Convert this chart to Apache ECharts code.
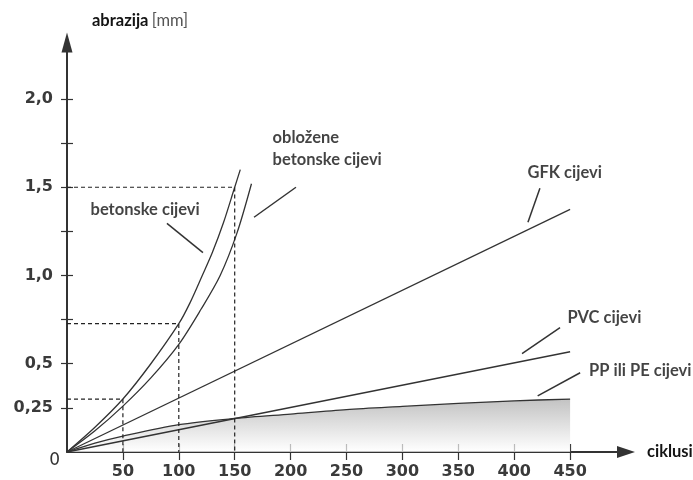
<!DOCTYPE html>
<html lang="hr">
<head>
    <meta charset="UTF-8">
    <title>abrazija</title>
    <script src="https://cdn.jsdelivr.net/npm/echarts@6/dist/echarts.min.js"></script>
    <style>
        html, body { margin: 0; padding: 0; background: #fff; }
        #chart { width: 693px; height: 480px; }
    </style>
</head>
<body>
<div id="chart"></div>
<script>
    // vrijednosti očitane sa slike
    var betonske = [[0, 0], [25, 0.14], [50, 0.30], [75, 0.50], [100, 0.727], [110, 0.845], [121, 1.0], [130, 1.13], [140, 1.3], [150, 1.5], [155, 1.6]];
    var oblozene = [[0, 0], [25, 0.12], [50, 0.26], [75, 0.42], [100, 0.61], [120, 0.81], [137, 1.0], [152, 1.24], [165, 1.52]];
    var gfk = [[0, 0], [450, 1.375]];
    var pvc = [[0, 0], [450, 0.568]];
    var ppPe = [[0, 0], [25, 0.05], [50, 0.09], [100, 0.155], [150, 0.19], [200, 0.215], [250, 0.24], [300, 0.258], [350, 0.275], [400, 0.29], [450, 0.30]];

    // isprekidane pomoćne linije
    var guides = [
        [[0, 0.30], [50, 0.30], [50, 0]],
        [[0, 0.727], [100, 0.727], [100, 0]],
        [[0, 1.5], [150, 1.5], [150, 0]]
    ];

    // oznake i crtice do krivulja
    var labelNames = ['obložene\nbetonske cijevi', 'betonske cijevi', 'GFK cijevi', 'PVC cijevi', 'PP ili PE cijevi'];
    var labelPos = [[183.4, 1.716], [20.6, 1.375], [411.4, 1.585], [447.2, 0.761], [466.5, 0.46]];
    var leaders = [
        [[204.8, 1.50], [167.3, 1.33]],
        [[89.4, 1.295], [121.6, 1.13]],
        [[423, 1.494], [412.3, 1.301]],
        [[441, 0.705], [407, 0.557]],
        [[459, 0.449], [421, 0.318]]
    ];

    var xTicks = [50, 100, 150, 200, 250, 300, 350, 400, 450];
    var yTicks = [0.25, 0.5, 0.75, 1.0, 1.25, 1.5, 1.75, 2.0];
    var yLabels = [0, 0.25, 0.5, 1.0, 1.5, 2.0];

    var ink = '#333';
    var noteFont = {
        fontFamily: 'Lato, "DejaVu Sans Condensed", sans-serif',
        fontWeight: 'bold',
        fontSize: 16.5,
        color: '#141414'
    };

    function curve(data, smooth) {
        return {
            type: 'line',
            data: data,
            smooth: smooth,
            symbol: 'none',
            lineStyle: { color: ink, width: 1.3 }
        };
    }

    var series = [
        curve(betonske, 0.3),
        curve(oblozene, 0.3),
        curve(gfk, false),
        curve(pvc, false),
        {
            type: 'line',
            data: ppPe,
            smooth: 0.3,
            symbol: 'none',
            lineStyle: { color: ink, width: 1.3 },
            areaStyle: {
                color: new echarts.graphic.LinearGradient(0, 0, 0, 1, [
                    { offset: 0, color: '#a8a8a8' },
                    { offset: 1, color: '#ffffff' }
                ])
            }
        }
    ];
    guides.forEach(function (g) {
        series.push({
            type: 'line',
            data: g,
            symbol: 'none',
            lineStyle: { color: '#222', width: 1.2, type: [4, 3] }
        });
    });
    leaders.forEach(function (l) {
        series.push({
            type: 'line',
            data: l,
            symbol: 'none',
            lineStyle: { color: ink, width: 1.5 }
        });
    });
    series.push({
        type: 'scatter',
        symbolSize: 1,
        itemStyle: { color: 'rgba(0,0,0,0)' },
        data: labelNames.map(function (n, i) {
            return { name: n, value: labelPos[i] };
        }),
        label: Object.assign({
            show: true,
            position: 'right',
            distance: 0,
            lineHeight: 22,
            formatter: '{b}'
        }, noteFont)
    });

    function fmtY(v) {
        if (v === 0) return '{z|0}';
        var s = v.toFixed(v === 0.25 ? 2 : 1).replace('.', ',');
        return '{v|' + s + '}';
    }

    var option = {
        animation: false,
        grid: { left: 67, right: 67, top: 42.5, bottom: 28, outerBoundsMode: 'none', containLabel: false },
        xAxis: [{
            type: 'value',
            position: 'bottom',
            min: 0,
            max: 500,
            name: 'ciklusi',
            nameLocation: 'end',
            nameGap: 21,
            nameTextStyle: Object.assign({ padding: [0, 0, 34, 0] }, noteFont),
            axisLine: {
                show: true,
                symbol: ['none', 'triangle'],
                symbolSize: [12, 18],
                lineStyle: { color: ink, width: 2 }
            },
            axisTick: { show: true, inside: false, length: 8, customValues: xTicks, lineStyle: { color: ink, width: 1.2 } },
            axisLabel: {
                customValues: xTicks,
                margin: 12,
                fontFamily: '"DejaVu Sans", sans-serif',
                fontWeight: 'bold',
                fontSize: 16,
                color: '#3a3a3a'
            },
            splitLine: { show: false }
        }, {
            type: 'value',
            position: 'bottom',
            min: 0,
            max: 500,
            axisLine: { show: false },
            axisTick: { show: true, inside: true, length: 8, customValues: xTicks, lineStyle: { color: ink, width: 1.2 } },
            axisLabel: { show: false },
            splitLine: { show: false }
        }],
        yAxis: [{
            type: 'value',
            position: 'left',
            min: 0,
            max: 2.32,
            name: '{a|abrazija} {b|[mm]}',
            nameLocation: 'end',
            nameGap: 13,
            nameTextStyle: {
                align: 'left',
                padding: [0, 0, 0, 25],
                rich: {
                    a: noteFont,
                    b: {
                        fontFamily: noteFont.fontFamily,
                        fontSize: 16.5,
                        color: '#555'
                    }
                }
            },
            axisLine: {
                show: true,
                symbol: ['none', 'triangle'],
                symbolSize: [11, 20],
                lineStyle: { color: ink, width: 2 }
            },
            axisTick: { show: true, inside: false, length: 6, customValues: yTicks, lineStyle: { color: ink, width: 1.2 } },
            axisLabel: {
                customValues: yLabels,
                margin: 7,
                formatter: fmtY,
                rich: {
                    v: {
                        fontFamily: '"DejaVu Sans", sans-serif',
                        fontWeight: 'bold',
                        fontSize: 16,
                        color: '#3a3a3a',
                        padding: [0, 7, 0, 0]
                    },
                    z: {
                        fontFamily: '"DejaVu Sans", sans-serif',
                        fontSize: 17,
                        color: '#333',
                        padding: [18, 0, 0, 0]
                    }
                }
            },
            splitLine: { show: false }
        }, {
            type: 'value',
            position: 'left',
            min: 0,
            max: 2.32,
            axisLine: { show: false },
            axisTick: { show: true, inside: true, length: 6, customValues: yTicks, lineStyle: { color: ink, width: 1.2 } },
            axisLabel: { show: false },
            splitLine: { show: false }
        }],
        series: series
    };

    var chart = echarts.init(document.getElementById('chart'), null, { renderer: 'canvas' });
    chart.setOption(option);
</script>
</body>
</html>
